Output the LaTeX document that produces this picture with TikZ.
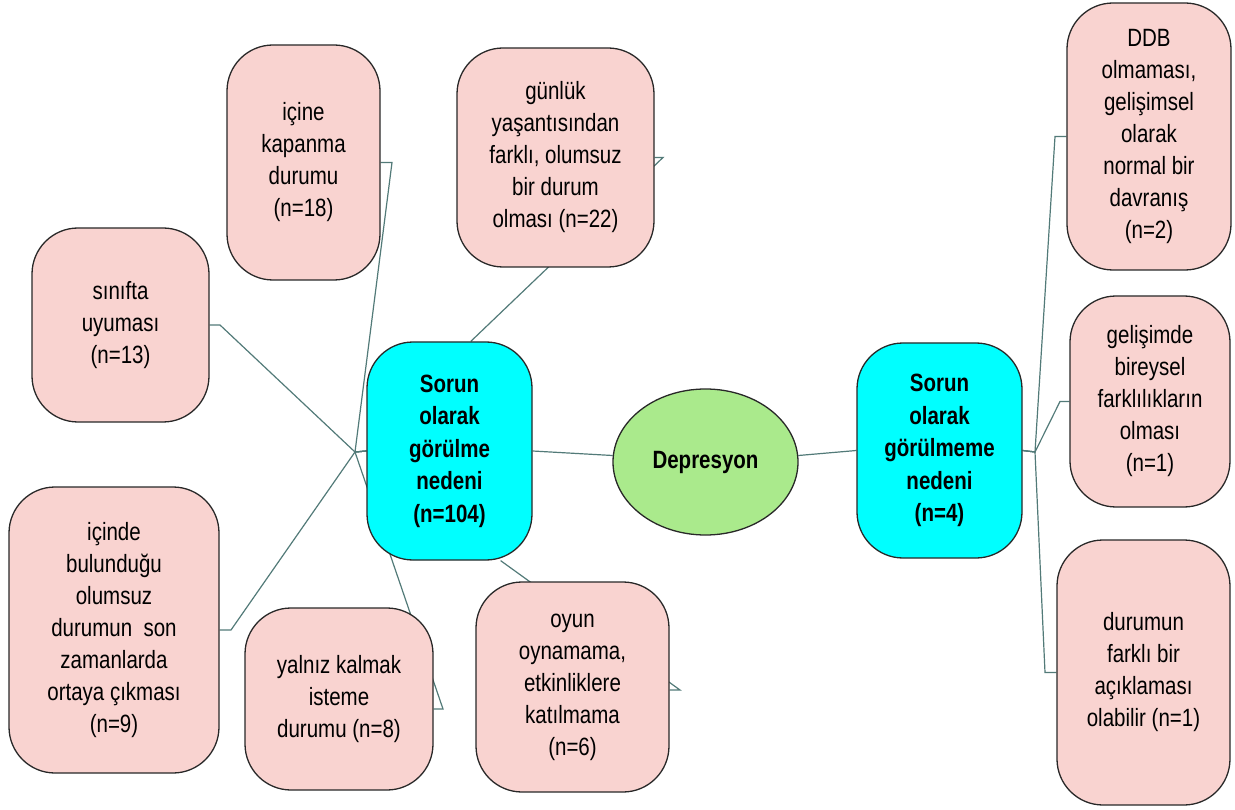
\documentclass[tikz,border=0pt]{standalone}
\usepackage{fontspec}
\setmainfont{Liberation Sans}[FakeStretch=0.82]
\usetikzlibrary{shapes.geometric}
\pgfdeclarelayer{background}
\pgfsetlayers{background,main}

\definecolor{boxpink}{RGB}{249,211,208}
\definecolor{boxcyan}{RGB}{0,255,255}
\definecolor{boxgreen}{RGB}{170,234,140}
\definecolor{rimgrey}{RGB}{40,40,40}
\definecolor{linkteal}{RGB}{82,122,120}

\tikzset{
  every node/.style={font=\fontsize{25}{32}\selectfont, text=black, align=center, inner sep=0pt},
  pinkbox/.style={draw=rimgrey, line width=1.3pt, fill=boxpink, rounded corners=46pt},
  cyanbox/.style={draw=rimgrey, line width=1.3pt, fill=boxcyan, rounded corners=46pt, font=\fontsize{25}{32.5}\selectfont\bfseries},
  hubnode/.style={draw=rimgrey, line width=1.3pt, fill=boxgreen, ellipse, font=\fontsize{25}{32}\selectfont\bfseries},
  link/.style={draw=linkteal, line width=1.2pt}
}

\begin{document}
\begin{tikzpicture}[x=1pt,y=-1pt]
\useasboundingbox (0,0) rectangle (1235,810);

% central topic and the two groups
\node[hubnode, minimum width=185pt, minimum height=146pt] (dep) at (705.5,462) {Depresyon};
\node[cyanbox, minimum width=165pt, minimum height=218pt] (cyanL) at (449.5,451) {Sorun\\olarak\\görülme\\nedeni\\(n=104)};
\node[cyanbox, minimum width=165pt, minimum height=215pt] (cyanR) at (939.5,450.5) {Sorun\\olarak\\görülmeme\\nedeni\\(n=4)};

% reasons it is seen as a problem
\node[pinkbox, minimum width=153pt, minimum height=235pt] (ici) at (303.5,162.5) {içine\\kapanma\\durumu\\(n=18)};
\node[pinkbox, minimum width=197pt, minimum height=219pt] (gun) at (555.5,157.5) {günlük\\yaşantısından\\farklı, olumsuz\\bir durum\\olması (n=22)};
\node[pinkbox, minimum width=177pt, minimum height=194pt] (sin) at (120.5,325) {sınıfta\\uyuması\\(n=13)};
\node[pinkbox, minimum width=210pt, minimum height=286pt] (icd) at (114,630) {içinde\\bulunduğu\\olumsuz\\durumun\ \ son\\zamanlarda\\ortaya çıkması\\(n=9)};
\node[pinkbox, minimum width=188pt, minimum height=182pt] (yal) at (339,699) {yalnız kalmak\\isteme\\durumu (n=8)};
\node[pinkbox, minimum width=193pt, minimum height=210pt] (oyu) at (572.5,687) {oyun\\oynamama,\\etkinliklere\\katılmama\\(n=6)};

% reasons it is not seen as a problem
\node[pinkbox, minimum width=164pt, minimum height=267pt] (ddb) at (1149,136.5) {DDB\\olmaması,\\gelişimsel\\olarak\\normal bir\\davranış\\(n=2)};
\node[pinkbox, minimum width=160pt, minimum height=211pt] (gel) at (1150,401.5) {gelişimde\\bireysel\\farklılıkların\\olması\\(n=1)};
\node[pinkbox, minimum width=173pt, minimum height=265pt] (dur) at (1143.5,672.5) {durumun\\farklı bir\\açıklaması\\olabilir (n=1)};

% branch points and elbows
\coordinate (hubL) at (355,452);
\coordinate (kIci) at (392,162.5);
\coordinate (kSin) at (220,325);
\coordinate (kIcd) at (231,630);
\coordinate (kYal) at (443,709);
\coordinate (kGun) at (663,157.5);
\coordinate (kOyu) at (680,690);
\coordinate (hubR) at (1035,452);
\coordinate (kDdb) at (1055,136.5);
\coordinate (kGel) at (1060,401.5);
\coordinate (kDur) at (1045,672.5);

\begin{pgfonlayer}{background}
  \draw[link] (dep.176) -- (cyanL.east);
  \draw[link] (dep.4) -- (cyanR.west);

  \draw[link] (cyanL.west) -- (hubL) -- (kIci) -- (ici.east);
  \draw[link] (cyanL.west) -- (hubL) -- (kSin) -- (sin.east);
  \draw[link] (cyanL.west) -- (hubL) -- (kIcd) -- (icd.east);
  \draw[link] (cyanL.west) -- (hubL) -- (kYal) -- (kYal -| yal.east);
  \draw[link] (cyanL.79) -- (kGun) -- (gun.east);
  \draw[link] (cyanL.-65) -- (kOyu) -- (kOyu -| oyu.east);

  \draw[link] (cyanR.east) -- (hubR) -- (kDdb) -- (ddb.west);
  \draw[link] (cyanR.east) -- (hubR) -- (kGel) -- (gel.west);
  \draw[link] (cyanR.east) -- (hubR) -- (kDur) -- (dur.west);
\end{pgfonlayer}
\end{tikzpicture}
\end{document}
